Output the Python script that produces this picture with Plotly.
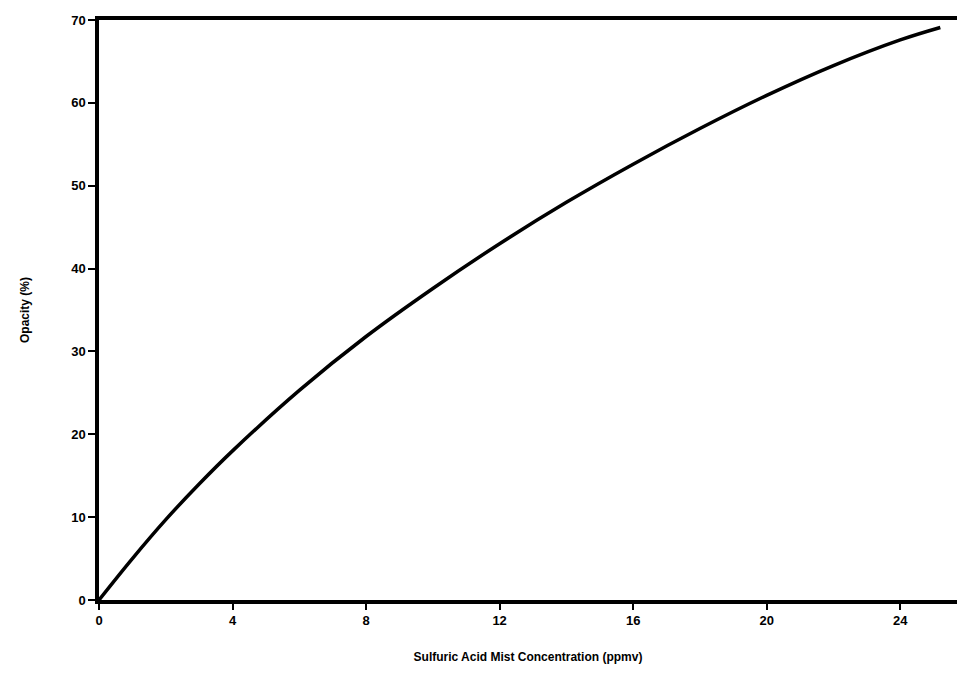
import plotly.graph_objects as go

conc = [0, 1, 2, 3, 4, 6, 8, 10, 12, 14, 16, 18, 20, 22, 24, 25.2]
opacity = [0, 5.0, 9.7, 14.0, 18.0, 25.3, 31.8, 37.6, 43.0, 48.0, 52.6, 56.9, 60.9, 64.5, 67.6, 69.1]
x_ticks = [0, 4, 8, 12, 16, 20, 24]
y_ticks = [0, 10, 20, 30, 40, 50, 60, 70]

fig = go.Figure()
fig.add_trace(go.Scatter(x=conc, y=opacity, mode="lines",
                         line=dict(color="black", width=3.5, shape="spline", smoothing=1),
                         showlegend=False))

tickfont = dict(family="Liberation Sans, Arial", size=13, color="black", weight="bold")
titlefont = dict(family="Liberation Sans, Arial", size=12, color="black", weight="bold")
fig.update_layout(
    width=957, height=680,
    margin=dict(l=99, r=0, t=20, b=80),
    paper_bgcolor="white", plot_bgcolor="white",
    xaxis=dict(range=[0, 25.7], tickvals=x_ticks, showgrid=False, zeroline=False,
               showline=True, linecolor="black", linewidth=3.5, mirror=True,
               ticks="outside", ticklen=6, tickwidth=2, tickcolor="black",
               tickfont=tickfont,
               title=dict(text="Sulfuric Acid Mist Concentration (ppmv)",
                          font=titlefont, standoff=26)),
    yaxis=dict(range=[0, 70], tickvals=y_ticks, showgrid=False, zeroline=False,
               showline=True, linecolor="black", linewidth=3.5,
               ticks="outside", ticklen=7, tickwidth=2, tickcolor="black",
               tickfont=tickfont,
               title=dict(text="Opacity (%)", font=titlefont, standoff=40)),
)
fig.write_html("out.html", config={"displayModeBar": False},
               post_script="document.body.style.margin='0';document.body.style.overflow='hidden';")
